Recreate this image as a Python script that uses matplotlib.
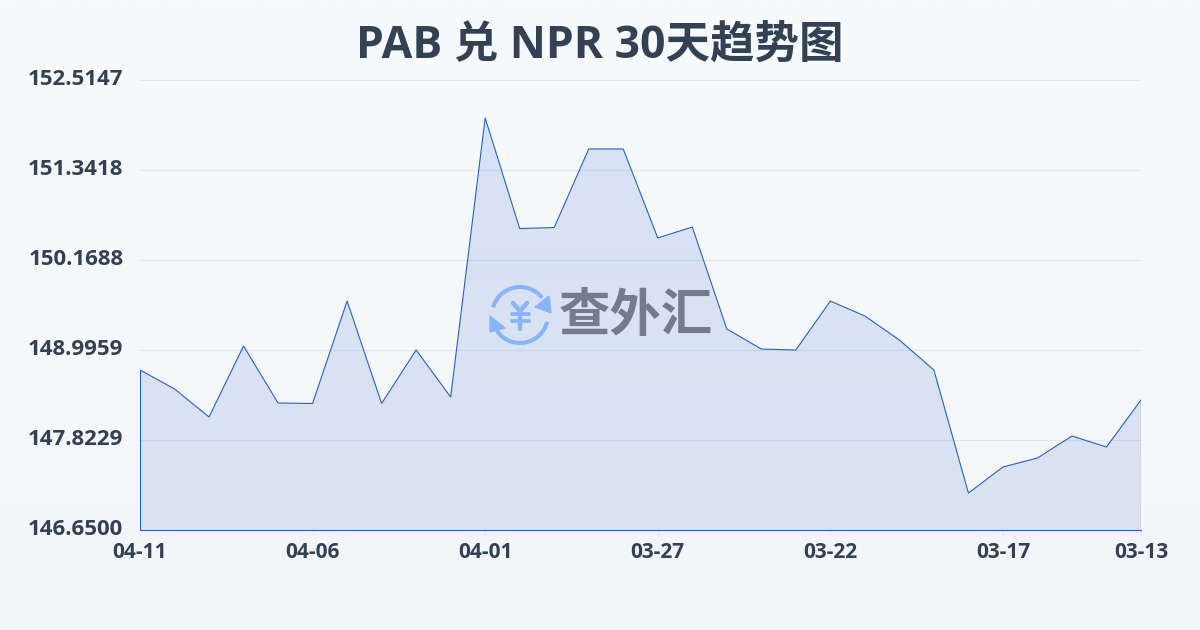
import numpy as np
import matplotlib
matplotlib.use("Agg")
import matplotlib.pyplot as plt
from matplotlib.patches import Arc, Polygon
from matplotlib.transforms import ScaledTranslation

plt.rcParams['font.family'] = ['Open Sans', 'Noto Sans CJK SC', 'DejaVu Sans']

title = "PAB 兑 NPR 30天趋势图"
dates = ["04-11", "", "", "", "", "04-06", "", "", "", "", "04-01", "", "", "", "", "03-27",
         "", "", "", "", "03-22", "", "", "", "", "03-17", "", "", "", "03-13"]
rates = [148.735, 148.488, 148.123, 149.048, 148.305, 148.299, 149.634, 148.299, 148.996, 148.383,
         152.020, 150.579, 150.592, 151.616, 151.616, 150.456, 150.599, 149.270, 149.009, 148.996,
         149.634, 149.439, 149.126, 148.735, 147.132, 147.471, 147.588, 147.875, 147.732, 148.344]
y_ticks = [146.6500, 147.8229, 148.9959, 150.1688, 151.3418, 152.5147]
watermark = "查外汇"

text_col = "#334155"
line_col = "#2563c4"

fig = plt.figure(figsize=(12, 6.3), dpi=100)

# background gradient
bg = fig.add_axes([0, 0, 1, 1], zorder=0)
bg.axis("off")
top_col = np.array([248, 250, 252])
bot_col = np.array([243, 245, 248])
bg_grad = np.linspace(0, 1, 256).reshape(-1, 1, 1) * (bot_col - top_col) + top_col
bg.imshow(bg_grad / 255, aspect="auto", extent=[0, 1, 0, 1])

ax = fig.add_axes([140 / 1200, 1 - 530 / 630, 1001 / 1200, 450 / 630], zorder=1)
ax.patch.set_alpha(0)
x = np.arange(len(rates))
ax.set_xlim(0, len(rates) - 1)
ax.set_ylim(y_ticks[0], y_ticks[-1])

# area with gradient fill, clipped to the polygon
verts = [(0, y_ticks[0])] + list(zip(x, rates)) + [(x[-1], y_ticks[0])]
poly = Polygon(verts, closed=True, facecolor="none", edgecolor="none", transform=ax.transData)
ax.add_patch(poly)
n = 256
grad = np.zeros((n, 1, 4))
grad[:, 0, 0] = np.linspace(0.149, 0.20, n)
grad[:, 0, 1] = np.linspace(0.388, 0.36, n)
grad[:, 0, 2] = np.linspace(0.85, 0.76, n)
grad[:, 0, 3] = np.linspace(0.15, 0.13, n)
im = ax.imshow(grad, aspect="auto", extent=[0, x[-1], y_ticks[0], y_ticks[-1]], zorder=2)
im.set_clip_path(poly)

ax.plot(x, rates, color=line_col, lw=0.8, zorder=3, solid_joinstyle="round")
ax.plot([0, 0], [rates[0], y_ticks[0]], color=line_col, lw=0.8, zorder=3)
ax.plot([x[-1], x[-1]], [rates[-1], y_ticks[0]], color=line_col, lw=0.8, zorder=3)
ax.plot([0, x[-1]], [y_ticks[0], y_ticks[0]], color=line_col, lw=0.8, zorder=3, clip_on=False)

ax.set_yticks(y_ticks)
ax.set_yticklabels([f"{v:.4f}" for v in y_ticks], fontsize=16, fontweight="bold", color=text_col)
tick_idx = [i for i, d in enumerate(dates) if d]
ax.set_xticks(tick_idx)
ax.set_xticklabels([dates[i] for i in tick_idx], fontsize=15, fontweight="bold", color=text_col)
ax.tick_params(axis="y", length=0, pad=12)
ax.tick_params(axis="x", length=4, width=0.8, color="#e2e8f0", pad=5)
ax.grid(axis="y", color="#e2e8f0", lw=0.8)
ax.set_axisbelow(True)
for s in ax.spines.values():
    s.set_visible(False)

# y labels sit a little above their gridlines
shift = ScaledTranslation(0, 3 / 100, fig.dpi_scale_trans)
for lab in ax.get_yticklabels():
    lab.set_transform(lab.get_transform() + shift)

fig.text(0.5, 1 - 46 / 630, title, ha="center", va="center", fontsize=32, fontweight="bold", color=text_col)

# watermark logo, drawn in pixel coordinates
ov = fig.add_axes([0, 0, 1, 1], zorder=3)
ov.set_xlim(0, 1200)
ov.set_ylim(630, 0)
ov.axis("off")
logo = "#8ab4f8"
ov.add_patch(Arc((520, 315), 56, 56, theta1=196, theta2=322, color=logo, lw=3))
ov.add_patch(Arc((520, 315), 56, 56, theta1=14, theta2=146, color=logo, lw=3))
ov.add_patch(Polygon([(549, 296), (551, 313), (535, 307)], closed=True, color=logo))
ov.add_patch(Polygon([(490, 316), (490, 332), (505, 328)], closed=True, color=logo))
ov.plot([513, 520, 527], [303, 311, 303], color=logo, lw=3.2, solid_capstyle="round")
ov.plot([520, 520], [311, 329], color=logo, lw=3.2, solid_capstyle="round")
ov.plot([512, 529], [314, 314], color=logo, lw=2.8, solid_capstyle="round")
ov.plot([512, 529], [321, 321], color=logo, lw=2.8, solid_capstyle="round")
ov.text(636, 318, watermark, ha="center", va="center", fontsize=37, fontweight="bold", color="#727c8e")

fig.savefig("out.png", dpi=100)
